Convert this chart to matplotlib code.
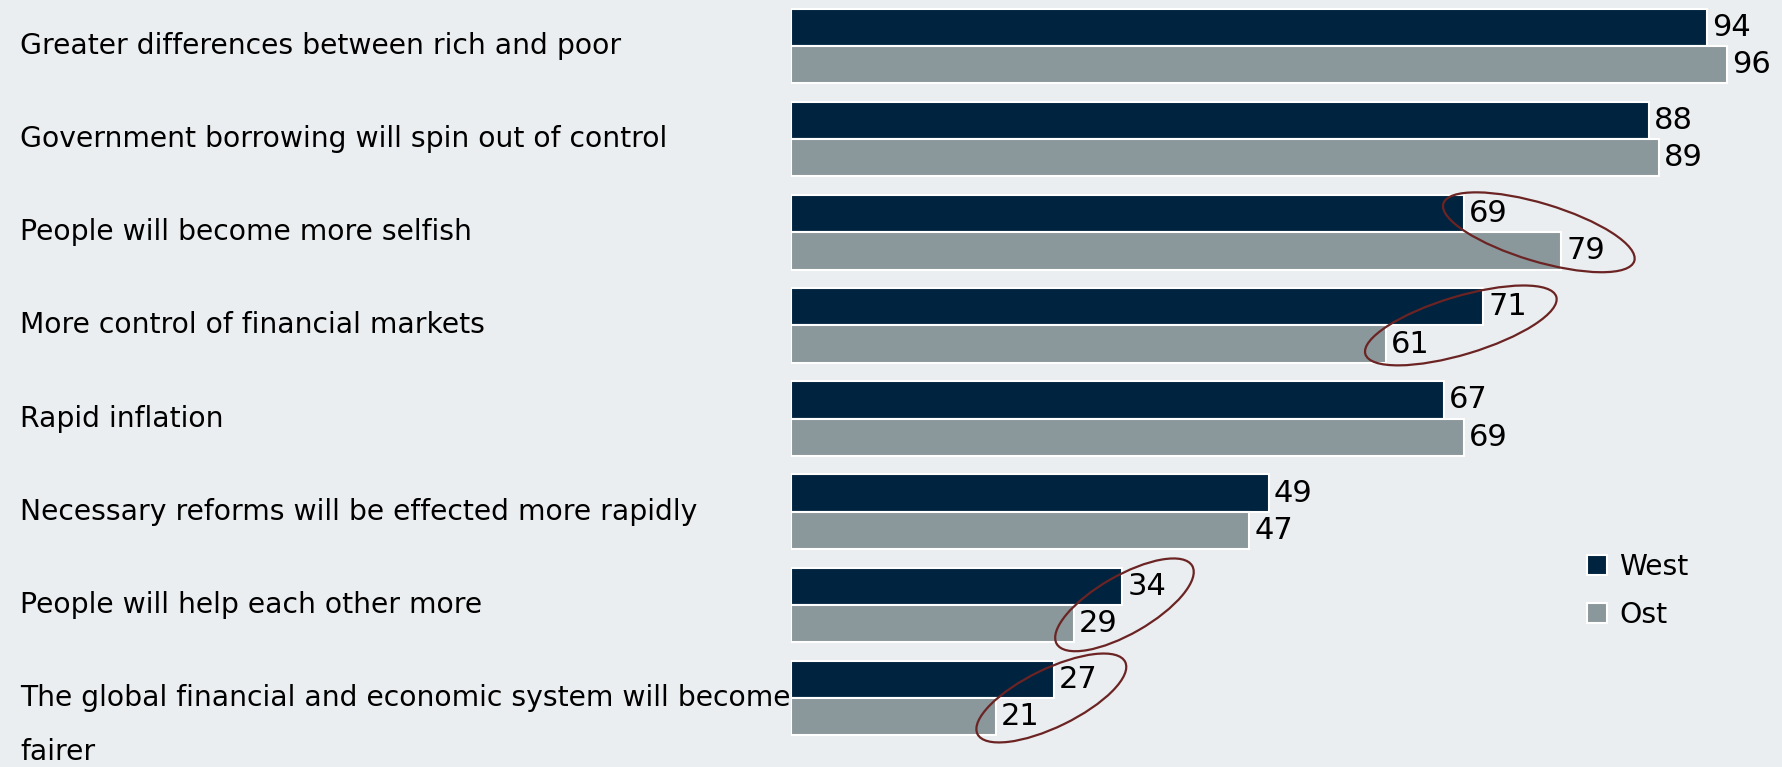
import numpy as np
import matplotlib
matplotlib.use("Agg")
import matplotlib.pyplot as plt
from matplotlib.patches import Ellipse
import matplotlib.transforms as mtransforms

categories = [
    "Greater differences between rich and poor",
    "Government borrowing will spin out of control",
    "People will become more selfish",
    "More control of financial markets",
    "Rapid inflation",
    "Necessary reforms will be effected more rapidly",
    "People will help each other more",
    "The global financial and economic system will become\nfairer",
]
west = [94, 88, 69, 71, 67, 49, 34, 27]
ost = [96, 89, 79, 61, 69, 47, 29, 21]
series_names = ["West", "Ost"]
highlighted = [2, 3, 6, 7]

BG = "#EBEEF0"
C_WEST = "#00233F"
C_OST = "#8A979B"
C_ELL = "#6B2423"
FONT = "DejaVu Sans"
FS = 20.3
FS_NUM = 22

W, H = 1783, 767
fig = plt.figure(figsize=(W / 100, H / 100), dpi=100, facecolor=BG)
ax = fig.add_axes([791 / W, 0, 975 / W, 1])
ax.set_facecolor(BG)
ax.set_xlim(0, 100)
ax.set_ylim(7.741, -0.494)
ax.axis("off")

y = np.arange(len(categories))
bh = 0.4
ax.barh(y - bh / 2, west, height=bh, color=C_WEST, edgecolor="white", linewidth=1.5, label=series_names[0])
ax.barh(y + bh / 2, ost, height=bh, color=C_OST, edgecolor="white", linewidth=1.5, label=series_names[1])

label_pos = {}
for i in range(len(categories)):
    for val, yy, key in ((west[i], y[i] - bh / 2, 0), (ost[i], y[i] + bh / 2, 1)):
        ax.text(val + 0.5, yy, str(val), ha="left", va="center",
                fontsize=FS_NUM, family=FONT, color="black")
        label_pos[(i, key)] = (val + 0.5, yy)

# category labels
trans = mtransforms.blended_transform_factory(fig.transFigure, ax.transData)
for i, lab in enumerate(categories):
    for j, line in enumerate(lab.split("\n")):
        tr = mtransforms.offset_copy(trans, fig=fig, x=0, y=-54 * j, units="dots")
        ax.text(20 / W, y[i], line, transform=tr, ha="left", va="center",
                fontsize=FS, family=FONT, color="black")

# ellipses around highlighted label pairs
fig.canvas.draw()
for i in highlighted:
    (x1, y1) = label_pos[(i, 0)]
    (x2, y2) = label_pos[(i, 1)]
    p1 = ax.transData.transform((x1 + 2.2, y1))
    p2 = ax.transData.transform((x2 + 2.2, y2))
    cx, cy = (p1 + p2) / 2
    dx, dy = p2 - p1
    dist = np.hypot(dx, dy)
    ang = np.degrees(np.arctan(dy / dx)) * 0.8
    e = Ellipse((cx, cy), width=dist + 95, height=58, angle=ang,
                fill=False, edgecolor=C_ELL, linewidth=1.6, transform=None)
    fig.add_artist(e)

leg = fig.legend(loc="upper left", bbox_to_anchor=(1587 / W, 1 - 553 / H),
                 frameon=False, prop={"family": FONT, "size": FS},
                 handlelength=0.7, handleheight=0.7, handletextpad=0.45,
                 labelspacing=0.7, borderaxespad=0, borderpad=0)

fig.savefig("out.png", dpi=100, facecolor=BG)
